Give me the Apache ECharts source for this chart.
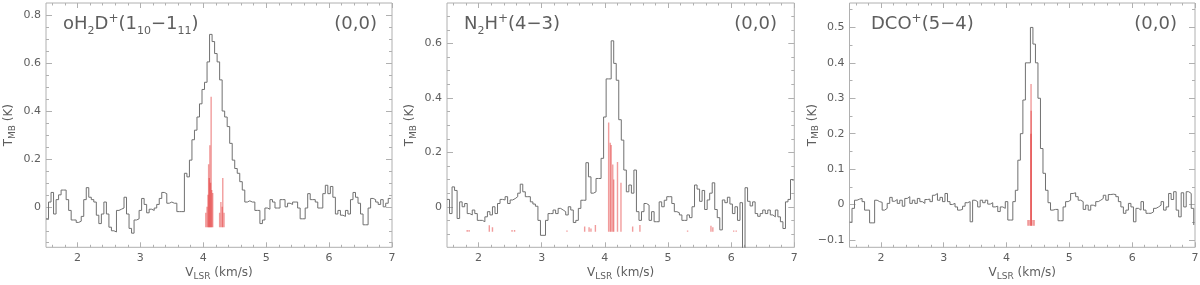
<!DOCTYPE html>
<html><head><meta charset="utf-8">
<script src="https://cdn.jsdelivr.net/npm/echarts@6/dist/echarts.min.js"></script>
<style>html,body{margin:0;padding:0;background:#fff}#c{width:1200px;height:285px}</style>
</head><body><div id="c"></div>
<script>
// channel left edges (km/s), shared by the three spectra
const velocity = [1.50,1.54,1.58,1.62,1.66,1.70,1.74,1.78,1.82,1.86,1.90,1.94,1.98,2.02,2.06,2.10,2.14,2.18,2.22,2.26,2.30,2.34,2.38,2.42,2.46,2.50,2.54,2.58,2.62,2.66,2.70,2.74,2.78,2.82,2.86,2.90,2.94,2.98,3.02,3.06,3.10,3.14,3.18,3.22,3.26,3.30,3.34,3.38,3.42,3.46,3.50,3.54,3.58,3.62,3.66,3.70,3.74,3.78,3.82,3.86,3.90,3.94,3.98,4.02,4.06,4.10,4.14,4.18,4.22,4.26,4.30,4.34,4.38,4.42,4.46,4.50,4.54,4.58,4.62,4.66,4.70,4.74,4.78,4.82,4.86,4.90,4.94,4.98,5.02,5.06,5.10,5.14,5.18,5.22,5.26,5.30,5.34,5.38,5.42,5.46,5.50,5.54,5.58,5.62,5.66,5.70,5.74,5.78,5.82,5.86,5.90,5.94,5.98,6.02,6.06,6.10,6.14,6.18,6.22,6.26,6.30,6.34,6.38,6.42,6.46,6.50,6.54,6.58,6.62,6.66,6.70,6.74,6.78,6.82,6.86,6.90,6.94,6.98];

const tOH2D = [-0.05,0.02,0.06,-0.03,0.03,0.05,0.07,0.07,0.03,-0.015,-0.055,-0.055,-0.065,-0.06,-0.04,0.03,0.08,0.04,0.03,0.02,-0.035,-0.07,-0.03,0.02,-0.03,-0.085,-0.1,-0.105,-0.015,-0.01,-0.005,0.04,-0.03,-0.09,-0.11,-0.055,-0.05,-0.015,0.035,0.01,-0.025,-0.01,-0.015,-0.005,0.01,0.035,0.06,0.055,0.015,0.02,0.015,0.015,-0.02,-0.02,-0.02,0.14,0.125,0.195,0.28,0.32,0.375,0.43,0.49,0.52,0.605,0.72,0.69,0.64,0.605,0.53,0.40,0.375,0.335,0.265,0.195,0.16,0.14,0.105,0.07,0.02,0.025,0.02,0.02,-0.015,-0.015,-0.07,-0.055,-0.005,-0.01,0.03,0.02,-0.005,-0.005,0.03,0.03,0.0,0.015,0.01,0.02,0.02,-0.005,-0.05,-0.05,-0.005,0.055,0.03,0.03,0.02,-0.005,-0.005,0.055,0.09,0.055,0.085,0.04,-0.03,-0.015,-0.035,-0.04,-0.015,-0.03,0.03,0.06,0.04,0.015,-0.03,-0.075,-0.075,-0.005,0.035,0.03,0.02,0.01,0.03,0.0,0.015,0.035,0.035];

const tN2H = [0.027,-0.025,0.073,0.06,-0.043,0.018,0.0,0.012,-0.025,-0.03,-0.012,-0.025,-0.05,-0.05,-0.055,-0.037,-0.018,-0.03,0.0,-0.025,0.012,0.027,0.025,0.037,0.012,0.025,0.03,0.037,0.05,0.083,0.055,0.037,0.037,0.018,0.01,0.002,-0.05,-0.105,-0.105,-0.05,-0.025,-0.025,-0.012,-0.025,-0.006,-0.012,-0.018,-0.03,0.0,-0.012,-0.058,-0.05,-0.006,0.024,0.024,0.162,0.11,0.05,0.055,0.104,0.104,0.178,0.33,0.47,0.47,0.61,0.527,0.465,0.32,0.245,0.135,0.055,0.08,0.05,0.135,-0.018,-0.05,-0.018,0.012,0.006,-0.05,-0.018,-0.055,-0.055,0.018,0.0,0.024,0.037,0.037,0.012,-0.018,-0.022,-0.03,-0.05,-0.05,-0.03,-0.04,0.0,0.08,0.065,0.02,0.06,-0.01,0.025,0.05,0.088,-0.01,-0.04,-0.085,0.025,0.015,0.035,0.01,-0.025,0.0,-0.05,0.015,-0.25,0.07,0.02,0.003,0.018,-0.025,-0.035,-0.025,-0.012,-0.025,-0.012,-0.03,-0.037,-0.012,-0.037,-0.055,-0.08,0.018,0.027,0.1,0.095];

const tDCO = [-0.05,-0.011,0.012,0.015,0.017,0.008,-0.016,-0.016,-0.052,-0.052,0.012,0.008,0.006,-0.016,-0.011,0.003,0.02,0.009,0.014,0.003,0.012,-0.005,0.017,0.022,0.003,0.012,0.003,0.017,0.008,0.003,0.014,0.015,0.008,0.026,0.031,0.012,0.02,0.008,0.031,0.008,0.0,0.003,-0.007,-0.016,-0.014,-0.005,0.005,0.008,-0.049,0.012,0.008,-0.007,0.012,0.005,0.012,0.001,0.005,-0.007,-0.005,-0.02,-0.007,-0.011,0.008,-0.044,-0.044,0.008,0.04,0.125,0.2,0.295,0.4,0.4,0.5,0.453,0.4,0.3,0.158,0.088,0.04,0.005,-0.016,-0.014,-0.014,-0.046,-0.046,-0.007,0.008,0.012,0.031,0.033,0.022,0.012,0.008,-0.014,-0.002,-0.016,-0.002,-0.005,0.008,0.012,0.017,0.026,0.012,0.028,0.029,0.028,0.022,0.008,-0.007,-0.025,-0.016,0.003,-0.007,-0.049,-0.011,-0.016,0.008,-0.016,-0.025,-0.025,-0.021,-0.011,-0.007,-0.002,0.008,-0.016,-0.007,0.031,0.014,0.036,-0.016,-0.035,0.033,-0.007,0.036,0.031,-0.011,-0.058];

// hyperfine components (red sticks): velocity, top, common base
const hfsOH2DV   = [4.04,4.06,4.075,4.085,4.095,4.105,4.115,4.125,4.135,4.15,4.26,4.28,4.30,4.31,4.33];
const hfsOH2DTop = [-0.025,0.0,0.05,0.178,0.12,0.257,0.1,0.46,0.07,0.058,-0.025,0.02,0.0,0.12,-0.025];
const hfsOH2DBase = -0.085;
const hfsN2HV   = [1.82,1.85,2.17,2.22,2.53,2.57,3.40,3.68,3.75,3.78,3.85,4.06,4.085,4.10,4.125,4.14,4.20,4.255,4.44,4.555,5.31,5.68,5.71,6.04,6.08];
const hfsN2HTop = [-0.085,-0.085,-0.068,-0.075,-0.085,-0.085,-0.087,-0.073,-0.075,-0.08,-0.067,0.31,0.235,0.227,0.155,0.10,0.165,0.088,-0.073,-0.067,-0.087,-0.07,-0.075,-0.087,-0.087];
const hfsN2HBase = -0.092;
const hfsDCOV   = [4.34,4.36,4.388,4.39,4.392,4.42,4.44];
const hfsDCOTop = [-0.044,-0.044,0.2,0.34,0.265,-0.044,-0.044];
const hfsDCOBase = -0.06;

// ticks
const xMajorTicks = [2,3,4,5,6,7];
const xMinorTicks = [1.6,1.8,2.2,2.4,2.6,2.8,3.2,3.4,3.6,3.8,4.2,4.4,4.6,4.8,5.2,5.4,5.6,5.8,6.2,6.4,6.6,6.8];
const yMajor1 = [0,0.2,0.4,0.6,0.8];
const yMinor1 = [-0.15,-0.1,-0.05,0.05,0.1,0.15,0.25,0.3,0.35,0.45,0.5,0.55,0.65,0.7,0.75];
const yMajor2 = [0,0.2,0.4,0.6];
const yMinor2 = [-0.1,-0.05,0.05,0.1,0.15,0.25,0.3,0.35,0.45,0.5,0.55,0.65,0.7];
const yMajor3 = [-0.1,0,0.1,0.2,0.3,0.4,0.5];
const yMinor3 = [-0.05,0.05,0.15,0.25,0.35,0.45,0.55];

const lineTitles = ['{a|oH}{s|2}{a|D}{p|+}{a|(1}{s|10}{a|\u22121}{s|11}{a|)}', '{a|N}{s|2}{a|H}{p|+}{a|(4\u22123)}', '{a|DCO}{p|+}{a|(5\u22124)}'];
const positionLabel = '(0,0)';
const xName = '{a|V}{s|LSR}{a| (km/s)}';
const yName = '{a|T}{s|MB}{a| (K)}';

const FONT = 'DejaVu Sans';
const TXT = '#5e5e5e';
const FRAME = '#b0b0b0';

const panels = [
  {grid:{left:46, top:3, width:346, height:244.3}, yMin:-0.169, yMax:0.851, yMaj:yMajor1, yMin_:yMinor1, spec:tOH2D, hv:hfsOH2DV, ht:hfsOH2DTop, hb:hfsOH2DBase, tl:63, tr:823},
  {grid:{left:447, top:3, width:347.3, height:244.3}, yMin:-0.149, yMax:0.749, yMaj:yMajor2, yMin_:yMinor2, spec:tN2H, hv:hfsN2HV, ht:hfsN2HTop, hb:hfsN2HBase, tl:464, tr:423},
  {grid:{left:849.5, top:3, width:345.5, height:244.3}, yMin:-0.121, yMax:0.569, yMaj:yMajor3, yMin_:yMinor3, spec:tDCO, hv:hfsDCOV, ht:hfsDCOTop, hb:hfsDCOBase, tl:871, tr:23}
];

const fmt = v => (v < 0 ? '\u2212' + Math.abs(v) : String(v));
const nameRich = {
  a:{fontFamily:FONT, fontSize:12, lineHeight:16, verticalAlign:'middle', color:TXT},
  s:{fontFamily:FONT, fontSize:9, lineHeight:7, verticalAlign:'bottom', color:TXT}
};
const titleRich = {
  a:{fontFamily:FONT, fontSize:18, lineHeight:24, verticalAlign:'middle', color:TXT, fontWeight:'normal'},
  s:{fontFamily:FONT, fontSize:11, lineHeight:7, verticalAlign:'bottom', color:TXT, fontWeight:'normal'},
  p:{fontFamily:FONT, fontSize:12, lineHeight:16, verticalAlign:'top', color:TXT, fontWeight:'normal'}
};

function tickAxis(base, pos, vals, len, extra) {
  return Object.assign({}, base, {
    position: pos,
    axisTick: {show:true, inside:true, length:len, customValues:vals, lineStyle:{color:FRAME, width:1}},
    axisLabel: {show:false}
  }, extra || {});
}

const grids = [], xAxes = [], yAxes = [], series = [], titles = [];
panels.forEach((p, gi) => {
  grids.push(Object.assign({show:true, borderColor:FRAME, borderWidth:1, backgroundColor:'transparent', containLabel:false, outerBoundsMode:'none'}, p.grid));
  const xb = {type:'value', gridIndex:gi, min:1.5, max:7, splitLine:{show:false}, axisLine:{show:false, onZero:false}};
  xAxes.push(tickAxis(xb, 'bottom', xMajorTicks, 5, {
    axisLabel:{show:true, customValues:xMajorTicks, margin:5, fontFamily:FONT, fontSize:11, color:TXT, formatter:fmt},
    name:xName, nameLocation:'middle', nameGap:18, nameMoveOverlap:false,
    nameTextStyle:{fontFamily:FONT, fontSize:12, color:TXT, rich:nameRich}
  }));
  xAxes.push(tickAxis(xb, 'bottom', xMinorTicks, 2.5));
  xAxes.push(tickAxis(xb, 'top', xMajorTicks, 5));
  xAxes.push(tickAxis(xb, 'top', xMinorTicks, 2.5));
  const yb = {type:'value', gridIndex:gi, min:p.yMin, max:p.yMax, splitLine:{show:false}, axisLine:{show:false, onZero:false}};
  yAxes.push(tickAxis(yb, 'left', p.yMaj, 6, {
    axisLabel:{show:true, customValues:p.yMaj, margin:5, fontFamily:FONT, fontSize:11, color:TXT, formatter:fmt},
    name:yName, nameLocation:'middle', nameGap:29, nameMoveOverlap:false,
    nameTextStyle:{fontFamily:FONT, fontSize:12, color:TXT, rich:nameRich}
  }));
  yAxes.push(tickAxis(yb, 'left', p.yMin_, 3));
  yAxes.push(tickAxis(yb, 'right', p.yMaj, 6));
  yAxes.push(tickAxis(yb, 'right', p.yMin_, 3));

  series.push({
    type:'line', xAxisIndex:gi*4, yAxisIndex:gi*4, step:'end', showSymbol:false, symbol:'none',
    data: velocity.map((v, i) => [v, p.spec[i]]),
    lineStyle:{color:'#707070', width:1}, clip:true, silent:true, z:2
  });
  series.push({
    type:'custom', xAxisIndex:gi*4, yAxisIndex:gi*4, clip:true, silent:true, z:3,
    encode:{x:0, y:[1,2]},
    data: p.hv.map((v, i) => [v, p.hb, p.ht[i]]),
    renderItem: (params, api) => {
      const a = api.coord([api.value(0), api.value(1)]);
      const b = api.coord([api.value(0), api.value(2)]);
      return {type:'line', shape:{x1:a[0], y1:a[1], x2:b[0], y2:b[1]},
        style:{stroke:'rgba(225,35,35,0.45)', lineWidth:1.4}};
    }
  });
  titles.push({text:lineTitles[gi], left:p.tl, top:12.5, padding:0,
    textStyle:{fontFamily:FONT, color:TXT, fontWeight:'normal', rich:titleRich}});
  titles.push({text:positionLabel, right:p.tr, top:12.5, padding:0,
    textStyle:{fontFamily:FONT, fontSize:18, lineHeight:24, color:TXT, fontWeight:'normal'}});
});

const chart = echarts.init(document.getElementById('c'), null, {renderer:'canvas'});
chart.setOption({
  animation:false,
  backgroundColor:'#fff',
  textStyle:{fontFamily:FONT},
  title:titles, grid:grids, xAxis:xAxes, yAxis:yAxes, series:series
});
</script></body></html>
